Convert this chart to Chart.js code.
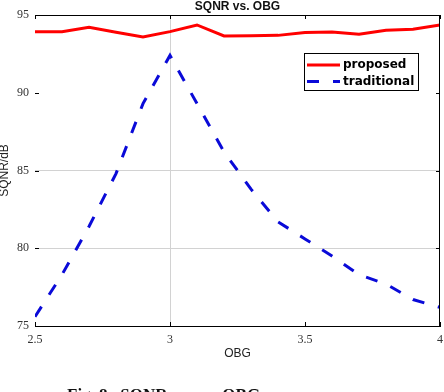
<!DOCTYPE html>
<html lang="en">
<head>
  <meta charset="UTF-8">
  <title>SQNR vs. OBG</title>
  <script src="https://cdn.jsdelivr.net/npm/chart.js"></script>
  <style>
    html, body { margin: 0; padding: 0; background: #fff; }
    #wrap { width: 444px; height: 392px; }
  </style>
</head>
<body>
  <div id="wrap"><canvas id="sqnrChart" width="444" height="392"></canvas></div>

  <script>
    // OBG values (x), one point every 0.1
    const obg = [2.5, 2.6, 2.7, 2.8, 2.9, 3.0, 3.1, 3.2, 3.3, 3.4, 3.5, 3.6, 3.7, 3.8, 3.9, 4.0];
    // SQNR in dB
    const proposed = [93.93, 93.93, 94.21, 93.89, 93.59, 93.93, 94.36, 93.65, 93.67, 93.69, 93.88, 93.91, 93.77, 94.02, 94.08, 94.36];
    const traditional = [75.6, 78.3, 81.4, 84.8, 89.3, 92.4, 89.3, 86.2, 83.8, 81.7, 80.6, 79.5, 78.3, 77.7, 76.7, 76.2];
    const seriesNames = ['proposed', 'traditional'];
    const xTicks = [2.5, 3, 3.5, 4];
    const yTicks = [75, 80, 85, 90, 95];
    const gridX = [3];          // only these grid lines show in the original
    const gridY = [80, 85];

    const toPoints = (ys) => obg.map((x, i) => ({ x: x, y: ys[i] }));

    // titles, frame, inner tick marks and the boxed legend
    const decor = {
      id: 'decor',
      afterDraw(chart) {
        const c = chart.ctx;
        const a = chart.chartArea;
        const xs = chart.scales.x, ys = chart.scales.y;
        c.save();

        // frame: top, right (bottom comes from the x border)
        c.strokeStyle = '#000';
        c.lineWidth = 1;
        c.beginPath();
        c.moveTo(a.left, a.top + 0.5); c.lineTo(a.right, a.top + 0.5);
        c.moveTo(a.right - 0.5, a.top); c.lineTo(a.right - 0.5, a.bottom);
        c.stroke();

        // small inward ticks
        c.beginPath();
        yTicks.forEach(v => {
          const py = Math.round(ys.getPixelForValue(v)) + 0.5;
          c.moveTo(a.left, py); c.lineTo(a.left + 4, py);
          c.moveTo(a.right - 4, py); c.lineTo(a.right, py);
        });
        xTicks.forEach(v => {
          const px = Math.round(xs.getPixelForValue(v)) + 0.5;
          c.moveTo(px, a.bottom); c.lineTo(px, a.bottom - 4);
          c.moveTo(px, a.top); c.lineTo(px, a.top + 4);
        });
        c.stroke();

        // title
        c.fillStyle = '#111';
        c.textAlign = 'center';
        c.textBaseline = 'alphabetic';
        c.font = 'bold 12px "Liberation Sans", Arial, sans-serif';
        c.fillText('SQNR vs. OBG', (a.left + a.right) / 2, 9.5);

        // x axis title
        c.font = '12px "Liberation Sans", Arial, sans-serif';
        c.fillStyle = '#222';
        c.textBaseline = 'middle';
        c.fillText('OBG', (a.left + a.right) / 2, 354);

        // y axis title
        c.save();
        c.translate(5, (a.top + a.bottom) / 2);
        c.rotate(-Math.PI / 2);
        c.fillText('SQNR/dB', 0, 0);
        c.restore();

        // caption of the figure, mostly cut off by the bottom edge
        c.font = 'bold 17px "Liberation Serif", "Times New Roman", serif';
        c.textAlign = 'left';
        c.textBaseline = 'alphabetic';
        c.fillStyle = '#111';
        c.fillText('Fig. 8.  SQNR versus OBG', 67, 400);

        // legend
        const lx = 304, ly = 53, lw = 114, lh = 37;
        c.fillStyle = '#fff';
        c.fillRect(lx, ly, lw, lh);
        c.strokeStyle = '#000';
        c.lineWidth = 1;
        c.strokeRect(lx + 0.5, ly + 0.5, lw, lh);
        c.font = 'bold 12px "DejaVu Sans", sans-serif';
        c.textAlign = 'left';
        c.textBaseline = 'middle';
        chart.data.datasets.forEach((ds, i) => {
          const ry = ly + 12 + i * 16.5;
          c.strokeStyle = ds.borderColor;
          c.lineWidth = 3;
          c.setLineDash(ds.borderDash || []);
          c.beginPath();
          c.moveTo(lx + 3, ry); c.lineTo(lx + 36, ry);
          c.stroke();
          c.setLineDash([]);
          c.fillStyle = '#000';
          c.fillText(ds.label, lx + 39, ry);
        });

        c.restore();
      }
    };

    const ctx = document.getElementById('sqnrChart').getContext('2d');
    new Chart(ctx, {
      type: 'line',
      data: {
        datasets: [
          {
            label: seriesNames[0],
            data: toPoints(proposed),
            borderColor: '#ff0000',
            borderWidth: 3,
            pointRadius: 0,
            tension: 0,
            fill: false
          },
          {
            label: seriesNames[1],
            data: toPoints(traditional),
            borderColor: '#0a0ad8',
            borderWidth: 3,
            borderDash: [12, 14],
            pointRadius: 0,
            tension: 0,
            fill: false
          }
        ]
      },
      options: {
        responsive: false,
        animation: false,
        layout: { padding: { top: 15, right: 0, left: 0, bottom: 0 } },
        plugins: {
          legend: { display: false },
          title: { display: false },
          tooltip: { enabled: false }
        },
        scales: {
          x: {
            type: 'linear',
            min: 2.5,
            max: 4,
            afterFit: (s) => { s.height = 66; s.paddingRight = 4; },
            afterBuildTicks: (s) => { s.ticks = xTicks.map(v => ({ value: v })); },
            ticks: {
              padding: 7,
              color: '#333',
              font: { family: '"Liberation Serif", serif', size: 12 },
              callback: (v) => String(v)
            },
            grid: {
              drawTicks: false,
              color: (c) => (c.tick && gridX.includes(c.tick.value)) ? '#d2d2d2' : 'rgba(0,0,0,0)'
            },
            border: { display: true, color: '#000' }
          },
          y: {
            min: 75,
            max: 95,
            afterFit: (s) => { s.width = 35; },
            afterBuildTicks: (s) => { s.ticks = yTicks.map(v => ({ value: v })); },
            ticks: {
              padding: 6,
              color: '#333',
              font: { family: '"Liberation Serif", serif', size: 12 }
            },
            grid: {
              drawTicks: false,
              color: (c) => (c.tick && gridY.includes(c.tick.value)) ? '#d2d2d2' : 'rgba(0,0,0,0)'
            },
            border: { display: false }
          }
        }
      },
      plugins: [decor]
    });
  </script>
</body>
</html>
